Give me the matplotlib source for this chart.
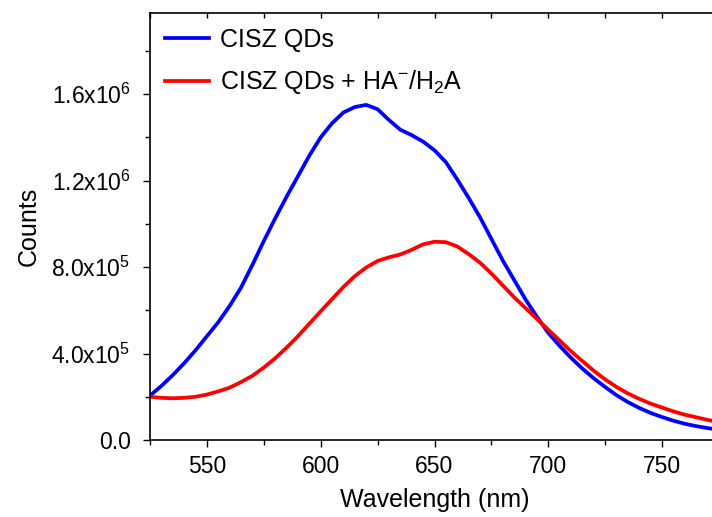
import matplotlib
matplotlib.use("Agg")
import matplotlib.pyplot as plt
from matplotlib.ticker import FixedLocator, MultipleLocator, FuncFormatter

# wavelength grid (nm), 5 nm steps
wavelength = [525, 530, 535, 540, 545, 550, 555, 560, 565, 570,
              575, 580, 585, 590, 595, 600, 605, 610, 615, 620,
              625, 630, 635, 640, 645, 650, 655, 660, 665, 670,
              675, 680, 685, 690, 695, 700, 705, 710, 715, 720,
              725, 730, 735, 740, 745, 750, 755, 760, 765, 770, 775]

# CISZ QDs (blue)
counts_qds = [2.05e5, 2.50e5, 3.00e5, 3.55e5, 4.15e5, 4.80e5, 5.45e5, 6.20e5, 7.05e5, 8.10e5,
              9.20e5, 1.025e6, 1.125e6, 1.22e6, 1.315e6, 1.40e6, 1.465e6, 1.515e6, 1.54e6, 1.55e6,
              1.53e6, 1.48e6, 1.435e6, 1.41e6, 1.38e6, 1.34e6, 1.285e6, 1.205e6, 1.12e6, 1.03e6,
              9.30e5, 8.30e5, 7.40e5, 6.50e5, 5.70e5, 4.95e5, 4.35e5, 3.80e5, 3.30e5, 2.85e5,
              2.45e5, 2.07e5, 1.75e5, 1.48e5, 1.25e5, 1.06e5, 8.9e4, 7.5e4, 6.4e4, 5.5e4, 4.8e4]

# CISZ QDs + HA-/H2A (red)
counts_ha = [2.00e5, 1.95e5, 1.93e5, 1.95e5, 2.00e5, 2.10e5, 2.25e5, 2.42e5, 2.68e5, 2.97e5,
             3.35e5, 3.78e5, 4.27e5, 4.80e5, 5.38e5, 5.95e5, 6.52e5, 7.08e5, 7.58e5, 7.98e5,
             8.28e5, 8.45e5, 8.58e5, 8.80e5, 9.05e5, 9.17e5, 9.15e5, 8.95e5, 8.60e5, 8.20e5,
             7.70e5, 7.15e5, 6.60e5, 6.10e5, 5.60e5, 5.10e5, 4.60e5, 4.10e5, 3.65e5, 3.20e5,
             2.80e5, 2.45e5, 2.15e5, 1.90e5, 1.68e5, 1.50e5, 1.32e5, 1.17e5, 1.05e5, 9.3e4, 8.3e4]

series_labels = ["CISZ QDs", r"CISZ QDs + HA$^{-}$/H$_2$A"]
x_ticks = [550, 600, 650, 700, 750]
y_ticks = [0.0, 4.0e5, 8.0e5, 1.2e6, 1.6e6]

plt.rcParams["font.family"] = ["Liberation Sans", "DejaVu Sans"]
plt.rcParams["mathtext.fontset"] = "custom"
plt.rcParams["mathtext.rm"] = "Liberation Sans"
plt.rcParams["mathtext.it"] = "Liberation Sans"
plt.rcParams["mathtext.bf"] = "Liberation Sans:bold"


def sci_label(value, _pos):
    if value == 0:
        return "0.0"
    exp = 0
    mant = value
    while abs(mant) >= 10:
        mant /= 10
        exp += 1
    return rf"${mant:.1f}\mathrm{{x}}10^{{{exp}}}$"


fig = plt.figure(figsize=(7.12, 5.17), dpi=100)
ax = fig.add_axes([150 / 712, 77 / 517, 569 / 712, 427 / 517])

ax.plot(wavelength, counts_qds, color="#0000ff", linewidth=2.7, label=series_labels[0])
ax.plot(wavelength, counts_ha, color="#ff0000", linewidth=2.7, label=series_labels[1])

ax.set_xlim(525, 775)
ax.set_ylim(0, 1.975e6)

ax.xaxis.set_major_locator(FixedLocator(x_ticks))
ax.xaxis.set_minor_locator(MultipleLocator(25))
ax.yaxis.set_major_locator(FixedLocator(y_ticks))
ax.yaxis.set_minor_locator(MultipleLocator(2e5))
ax.yaxis.set_major_formatter(FuncFormatter(sci_label))

ax.tick_params(axis="both", which="major", direction="out", length=5, width=1,
               labelsize=16.5, top=False, right=False)
ax.tick_params(axis="x", which="major", pad=6)
ax.tick_params(axis="y", which="major", pad=9)
ax.tick_params(axis="both", which="minor", direction="out", length=3.5, width=1,
               top=False, right=False)
ax.spines["right"].set_visible(False)
for side in ("left", "bottom", "top"):
    ax.spines[side].set_linewidth(1.2)

# small inward ticks along the top spine
top = ax.secondary_xaxis("top")
top.xaxis.set_major_locator(MultipleLocator(25))
top.tick_params(direction="in", length=3.5, width=1, labeltop=False)
top.spines["top"].set_visible(False)

ax.set_xlabel("Wavelength (nm)", fontsize=18, labelpad=7)
ax.set_ylabel("Counts", fontsize=18, labelpad=8)

ax.legend(loc="upper left", frameon=False, fontsize=18, handlelength=1.75,
          handletextpad=0.45, labelspacing=0.65, borderaxespad=0.3, borderpad=0.3,
          bbox_to_anchor=(0.0, 1.0))

fig.savefig("out.png", dpi=100)
